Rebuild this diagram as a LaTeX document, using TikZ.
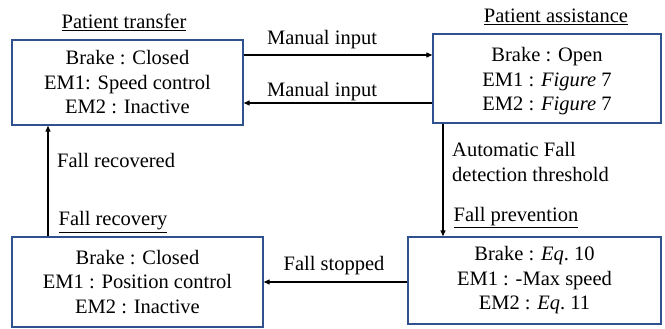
\documentclass[tikz,border=0pt]{standalone}
\usepackage{fontspec}
\setmainfont{Liberation Serif}
\usetikzlibrary{arrows.meta}
\definecolor{boxblue}{RGB}{47,82,143}
\tikzset{
  statebox/.style={draw=boxblue, line width=1.4pt, rectangle, align=center, inner sep=0pt,
    font=\fontsize{20.5}{24.5}\selectfont},
  lbl/.style={font=\fontsize{20.5}{24.5}\selectfont, inner sep=0pt, align=left},
  conn/.style={line width=1.2pt, -{Triangle[length=6pt,width=5pt]}}
}
\begin{document}
\begin{tikzpicture}[x=1pt,y=-1pt]
\useasboundingbox (0,0) rectangle (665,329);
% boxes
\node[statebox, minimum width=231pt, minimum height=85pt] (b1) at (127.5,82.5)
  {Brake : Closed\\EM1: Speed control\\EM2 : Inactive};
\node[statebox, minimum width=228pt, minimum height=89pt] (b2) at (547,78.5)
  {\rule{0pt}{20pt}Brake : Open\\EM1 : \textit{Figure} 7\\EM2 : \textit{Figure} 7};
\node[statebox, minimum width=251pt, minimum height=90pt] (b3) at (137.5,282)
  {Brake : Closed\\EM1 : Position control\\EM2 : Inactive};
\node[statebox, minimum width=253pt, minimum height=87pt] (b4) at (534.5,280.5)
  {Brake : \textit{Eq}.~10\\EM1 : -Max speed\\EM2 : \textit{Eq}.~11};
% titles
\node[lbl] (t1) at (124,22) {\underline{Patient transfer}};
\node[lbl] (t2) at (556,17) {\underline{Patient assistance}};
\node[lbl] (t3) at (113,222) {\underline{Fall recovery}};
\node[lbl] (t4) at (516,218) {\underline{Fall prevention}};
% helper coordinates
\coordinate (ya) at (0,55);
\coordinate (yb) at (0,103);
\coordinate (yc) at (0,282);
\coordinate (xa) at (443,0);
\coordinate (xb) at (48,0);
% connectors
\draw[conn] (b1.east |- ya) -- (b2.west |- ya);
\draw[conn] (b2.west |- yb) -- (b1.east |- yb);
\draw[conn] (xa |- b2.south) -- (xa |- b4.north);
\draw[conn] (b4.west |- yc) -- (b3.east |- yc);
\draw[conn] (xb |- b3.north) -- (xb |- b1.south);
% connector labels
\node[lbl] (l1) at (322,40) {Manual input};
\node[lbl] (l2) at (322,92) {Manual input};
\node[lbl, anchor=west] (l3) at (452,162) {Automatic Fall\\detection threshold};
\node[lbl] (l4) at (334,266) {Fall stopped};
\node[lbl, anchor=west] (l5) at (57,160) {Fall recovered};
\end{tikzpicture}
\end{document}
